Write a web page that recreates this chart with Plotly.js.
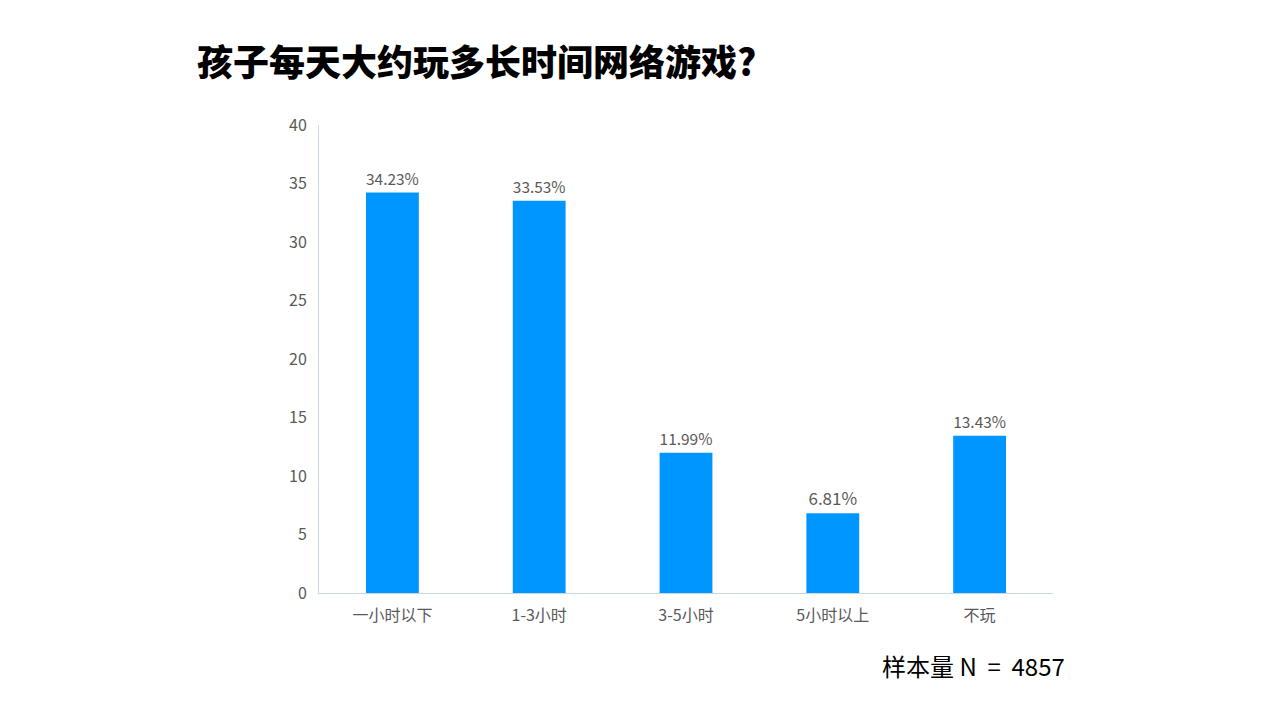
<!DOCTYPE html>
<html><head><meta charset="utf-8">
<script src="https://cdn.plot.ly/plotly-3.0.1.min.js"></script>
<style>html,body{margin:0;padding:0;background:#fff}#chart{width:1280px;height:720px}</style>
</head><body><div id="chart"></div>
<script>
const categories = ["一小时以下", "1-3小时", "3-5小时", "5小时以上", "不玩"];
const values = [34.23, 33.53, 11.99, 6.81, 13.43];
const labels = ["34.23%", "33.53%", "11.99%", "6.81%", "13.43%"];
const yTicks = [0, 5, 10, 15, 20, 25, 30, 35, 40];
const titleText = "孩子每天大约玩多长时间网络游戏?";
const noteText = "样本量 N&nbsp;&nbsp;=&nbsp;&nbsp;4857";

const font = "'Microsoft YaHei', 'Noto Sans CJK SC', sans-serif";
Plotly.newPlot("chart", [{
  type: "bar", x: categories, y: values, text: labels,
  textposition: "outside", cliponaxis: false,
  textfont: {family: font, size: 17, color: "#595959"},
  marker: {color: "#0096ff"}, hoverinfo: "skip"
}], {
  width: 1280, height: 720,
  margin: {l: 319, r: 227, t: 125, b: 127},
  paper_bgcolor: "#fff", plot_bgcolor: "#fff",
  bargap: 0.64, showlegend: false,
  font: {family: font, color: "#595959"},
  xaxis: {showline: true, linecolor: "#c9d6e6", linewidth: 1, showgrid: false, zeroline: false,
          tickfont: {size: 16, color: "#595959"}, ticks: "", ticklabelstandoff: 8},
  yaxis: {range: [0, 40], tickvals: yTicks, showline: true, linecolor: "#c9d6e6", linewidth: 1,
          showgrid: false, zeroline: false, tickfont: {size: 16, color: "#595959"}, ticks: "", ticklabelstandoff: 8},
  annotations: [
    {text: titleText, xref: "paper", yref: "paper", x: -0.169, y: 1.138, xanchor: "left", yanchor: "middle",
     showarrow: false, font: {size: 36, color: "#000", family: font, weight: 900}},
    {text: noteText, xref: "paper", yref: "paper", x: 1.019, y: -0.154, xanchor: "right", yanchor: "middle",
     showarrow: false, font: {size: 24, color: "#000", family: font}}
  ]
}, {displayModeBar: false, staticPlot: true});
</script></body></html>
